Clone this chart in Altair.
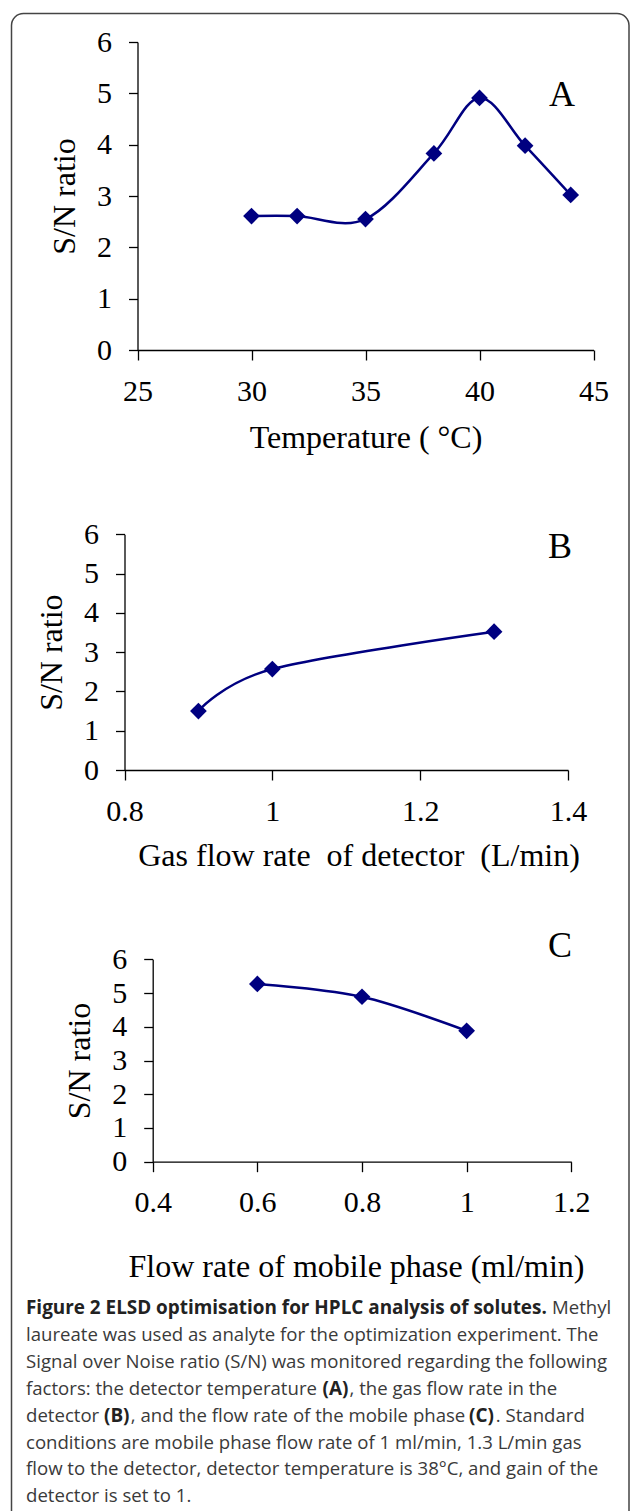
import altair as alt
import pandas as pd

# ---------------- data ----------------
# Panel A: detector temperature
temp_c = [30, 32, 35, 38, 40, 42, 44]
sn_a = [2.61, 2.61, 2.55, 3.83, 4.91, 3.98, 3.02]
# Panel B: gas flow rate of detector
gas_flow = [0.9, 1.0, 1.3]
sn_b = [1.50, 2.57, 3.52]
# Panel C: flow rate of mobile phase
mobile_flow = [0.6, 0.8, 1.0]
sn_c = [5.27, 4.89, 3.88]

ticks_a = [25, 30, 35, 40, 45]
ticks_b = [0.8, 1.0, 1.2, 1.4]
ticks_c = [0.4, 0.6, 0.8, 1.0, 1.2]
ticks_y = [0, 1, 2, 3, 4, 5, 6]

caption_lines = [
    [("Figure 2 ELSD optimisation for HPLC analysis of solutes.", True), ("Methyl", False)],
    [("laureate was used as analyte for the optimization experiment. The", False)],
    [("Signal over Noise ratio (S/N) was monitored regarding the following", False)],
    [("factors: the detector temperature", False), ("(A)", True), (", the gas flow rate in the", False)],
    [("detector", False), ("(B)", True), (", and the flow rate of the mobile phase", False), ("(C)", True), (". Standard", False)],
    [("conditions are mobile phase flow rate of 1 ml/min, 1.3 L/min gas", False)],
    [("flow to the detector, detector temperature is 38°C, and gain of the", False)],
    [("detector is set to 1.", False)],
]
# horizontal start of each caption segment (px), same shape as caption_lines
caption_x = [
    [26, 552],
    [26],
    [26],
    [26, 322.5, 349.5],
    [26, 104, 130.8, 469, 495.8],
    [26],
    [26],
    [26],
]

W, H = 630, 1511
NAVY = "#000080"
SERIF = "Liberation Serif"
NB = "\u00a0"


def panel(xs, ys, xdom, xticks, xtitle, xr, yr, title_x, title_dy):
    df = pd.DataFrame({"x": xs, "y": ys})
    return alt.Chart(df).mark_line(
        interpolate="cardinal", color=NAVY, strokeWidth=2.5,
        point=alt.OverlayMarkDef(shape="diamond", size=280, filled=True,
                                 color=NAVY, opacity=1),
    ).encode(
        x=alt.X("x:Q",
                scale=alt.Scale(domain=xdom, range=xr, nice=False, zero=False),
                axis=alt.Axis(orient="bottom", offset=yr[0] - H, values=xticks,
                              format="~g", title=xtitle, tickSize=10,
                              labelPadding=16, labelFlush=False,
                              labelOverlap=False,
                              titleX=title_x, titleY=title_dy,
                              titleBaseline="middle", titleAlign="center")),
        y=alt.Y("y:Q",
                scale=alt.Scale(domain=[0, 6], range=yr, nice=False, zero=False),
                axis=alt.Axis(orient="left", offset=-xr[0], values=ticks_y,
                              title="S/N ratio", tickSize=9, labelPadding=17,
                              labelFlush=False, labelOverlap=False,
                              titleX=-73, titleY=(yr[0] + yr[1]) / 2,
                              titleBaseline="middle", titleAlign="center",
                              titleAngle=270)),
    )


pA = panel(temp_c, sn_a, [25, 45], ticks_a, "Temperature ( °C)",
           [137.5, 593.5], [350, 42], 365.5, 87)
pB = panel(gas_flow, sn_b, [0.8, 1.4], ticks_b,
           "Gas flow rate " + NB + "of detector " + NB + "(L/min)",
           [124.5, 568], [770, 534.3], 358.5, 85)
pC = panel(mobile_flow, sn_c, [0.4, 1.2], ticks_c,
           "Flow rate of mobile phase (ml/min)", [152.7, 571.3],
           [1161.7, 959.3], 356, 105)

# panel letters
letters_df = pd.DataFrame({"t": ["A", "B", "C"], "x": [562, 560, 560],
                           "y": [95, 547, 946]})
letters = alt.Chart(letters_df).mark_text(
    font=SERIF, fontSize=36, color="black", align="center", baseline="middle"
).encode(x=alt.X("x:Q", scale=None, axis=None),
         y=alt.Y("y:Q", scale=None, axis=None), text="t:N")

# caption
rows = []
for i, (segs, xs) in enumerate(zip(caption_lines, caption_x)):
    for (txt, bold), x in zip(segs, xs):
        rows.append({"t": txt, "x": x, "y": 1314 + 26.9 * i, "bold": bold})
cap = pd.DataFrame(rows)
cap_norm = alt.Chart(cap[~cap.bold]).mark_text(
    font="Open Sans", fontSize=18.6, color="#3a3a3a", align="left",
    baseline="alphabetic"
).encode(x=alt.X("x:Q", scale=None, axis=None),
         y=alt.Y("y:Q", scale=None, axis=None), text="t:N")
cap_bold = alt.Chart(cap[cap.bold]).mark_text(
    font="Open Sans", fontSize=18.9, fontWeight="bold", color="#222222",
    align="left", baseline="alphabetic"
).encode(x=alt.X("x:Q", scale=None, axis=None),
         y=alt.Y("y:Q", scale=None, axis=None), text="t:N")

# rounded frame
border = alt.Chart(pd.DataFrame({"a": [0]})).mark_rect(
    fill="transparent", stroke="#444444", strokeWidth=1.5, cornerRadius=12
).encode(x=alt.value(11.5), x2=alt.value(629), y=alt.value(13.5),
         y2=alt.value(1560))

chart = alt.layer(border, pA, pB, pC, letters, cap_norm, cap_bold).resolve_scale(
    x="independent", y="independent"
).properties(
    width=W, height=H, padding=0, autosize=alt.AutoSizeParams(type="none"),
    background="white"
).configure_view(stroke=None).configure_axis(
    grid=False, domainColor="black", domainWidth=1.3, tickColor="black",
    tickWidth=1.3, labelColor="black", titleColor="black", labelFont=SERIF,
    titleFont=SERIF, labelFontSize=30, titleFontSize=32,
    titleFontWeight="normal"
)

chart.save("out.html", embed_options={"renderer": "svg", "actions": False})
